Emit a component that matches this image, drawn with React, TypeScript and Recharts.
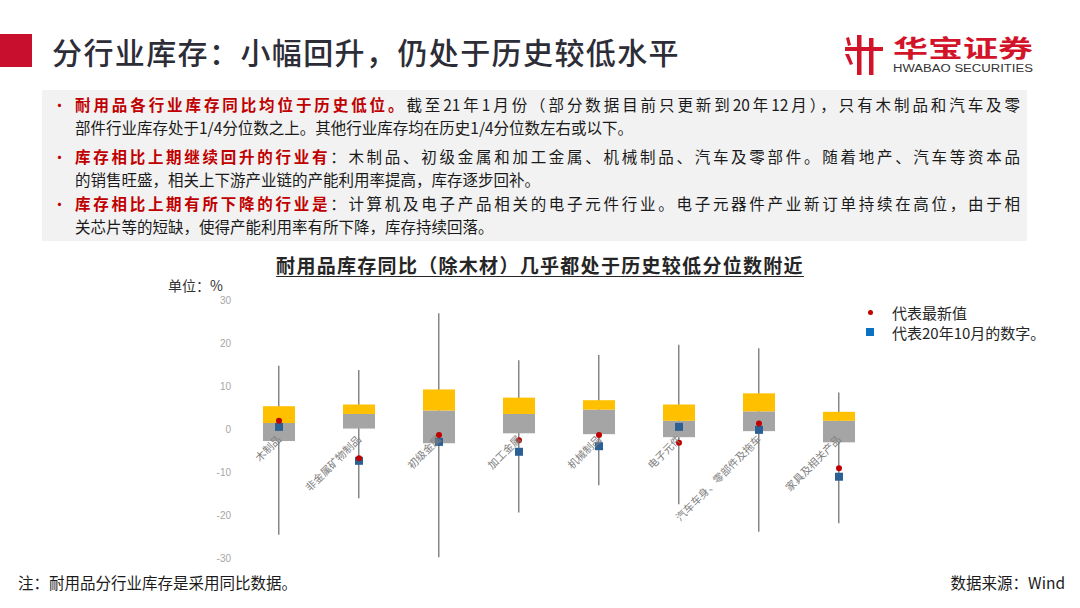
import React from 'react';
import { ComposedChart, Bar, Line, XAxis, YAxis, Legend, LabelList } from 'recharts';

const categories = ['木制品', '非金属矿物制品', '初级金属', '加工金属', '机械制品', '电子元件', '汽车车身、零部件及拖车', '家具及相关产品'];
const histMin = [-24.6, -16.1, -29.8, -19.4, -13.1, -17.5, -23.9, -21.9];
const histMax = [14.7, 13.7, 26.9, 16.0, 17.2, 19.6, 18.8, 8.5];
const q1 = [-2.8, 0.1, -3.3, -1.0, -1.2, -1.9, -0.5, -3.1];
const median = [1.4, 3.5, 4.3, 3.5, 4.5, 1.9, 4.1, 1.9];
const q3 = [5.3, 5.7, 9.2, 7.3, 6.7, 5.7, 8.3, 4.0];
const latest = [1.9, -6.8, -1.4, -2.6, -1.4, -3.2, 1.3, -9.1];
const oct2020 = [0.5, -7.4, -3.0, -5.3, -4.0, 0.5, -0.2, -11.1];
const yTicks = [-30, -20, -10, 0, 10, 20, 30];

const LATEST_NAME = '代表最新值';
const OCT_NAME = '代表20年10月的数字。';
const legendOrder = [LATEST_NAME, OCT_NAME];

const data = categories.map((name, i) => ({
  name,
  whisker: [histMin[i], histMax[i]],
  lower: [q1[i], median[i]],
  upper: [median[i], q3[i]],
  latest: latest[i],
  oct: oct2020[i],
  base: 0,
}));

const CJK = '"Noto Sans CJK SC", "Noto Sans", sans-serif';
const RED = '#c00000';

function CategoryLabel(props: any) {
  const x = props.x ?? props.viewBox?.x;
  const y = props.y ?? props.viewBox?.y;
  if (x == null || y == null) return null;
  const ax = x + 3;
  const ay = y + 11;
  return (
    <text x={ax} y={ay} transform={`rotate(-45 ${ax} ${ay})`} textAnchor="end" fontSize={10.5} fill="#808080" fontFamily={CJK}>
      {props.value}
    </text>
  );
}

function SquareDot(props: any) {
  const { cx, cy, index } = props;
  if (cx == null || cy == null) return null;
  return <rect key={`sq-${index}`} x={cx - 4} y={cy - 4} width={8} height={8} fill="#2b6095" />;
}

function LegendBox(props: any) {
  const items = (props.payload || [])
    .filter((p: any) => legendOrder.includes(p.value))
    .sort((a: any, b: any) => legendOrder.indexOf(a.value) - legendOrder.indexOf(b.value));
  return (
    <div style={{ fontFamily: CJK, fontSize: 15, color: '#262626' }}>
      {items.map((p: any) => (
        <div key={p.value} style={{ display: 'flex', alignItems: 'center', height: 20 }}>
          <span style={{ width: 26, display: 'inline-flex', justifyContent: 'flex-start' }}>
            {p.value === LATEST_NAME ? (
              <span style={{ width: 5, height: 5, borderRadius: 3, background: RED, marginLeft: 1.5 }} />
            ) : (
              <span style={{ width: 8, height: 8, background: '#0b72c2' }} />
            )}
          </span>
          <span>{p.value}</span>
        </div>
      ))}
    </div>
  );
}

function Logo() {
  return (
    <svg width={200} height={50} style={{ position: 'absolute', left: 840, top: 30 }}>
      <g fill="#d2142a">
        <rect x={5} y={17} width={38} height={4} />
        <rect x={17} y={5} width={4.5} height={40} />
        <rect x={29} y={8} width={4.5} height={37} />
        <path d="M5 24 L9 24 L13 34 L10 35 Z" />
        <path d="M6 8 L9 7 L11 15 L8 16 Z" />
      </g>
      <text x={53} y={27} textLength={140} lengthAdjust="spacingAndGlyphs" fontSize={24} fontWeight={700} fill="#d2142a" fontFamily={CJK}>
        华宝证券
      </text>
      <text x={53} y={42} textLength={140} lengthAdjust="spacingAndGlyphs" fontSize={10} fill="#333" fontFamily="'Liberation Sans', Arial, sans-serif">
        HWABAO SECURITIES
      </text>
    </svg>
  );
}

const lineStyle = (top: number, justify: boolean): React.CSSProperties => ({
  position: 'absolute',
  left: 75,
  top,
  width: 945,
  height: 23,
  lineHeight: '23px',
  textAlign: justify ? 'justify' : 'left',
  textAlignLast: justify ? 'justify' : 'left',
  whiteSpace: 'nowrap',
});

const redStyle: React.CSSProperties = { color: RED, fontWeight: 700 };

export default function App() {
  return (
    <div style={{ position: 'absolute', left: 0, top: 0, width: 1080, height: 608, background: '#fff', overflow: 'hidden', fontFamily: CJK, color: '#1a1a1a' }}>
      <div style={{ position: 'absolute', left: 0, top: 34, width: 32, height: 33, background: '#c8102e' }} />
      <div style={{ position: 'absolute', left: 52, top: 31, fontSize: 30, lineHeight: '40px', color: '#2d2d38', fontWeight: 500, letterSpacing: 1.4 }}>
        分行业库存：小幅回升，仍处于历史较低水平
      </div>
      <Logo />

      <div style={{ position: 'absolute', left: 42, top: 90, width: 985, height: 151, background: '#f2f2f2' }} />
      <div style={{ fontSize: 15.5 }}>
        {[92.5, 145, 192].map((t) => (
          <div key={t} style={{ position: 'absolute', left: 52, top: t, lineHeight: '23px', color: RED, fontSize: 15 }}>•</div>
        ))}
        <div style={lineStyle(92.5, true)}>
          <span style={redStyle}>耐用品各行业库存同比均位于历史低位。</span>截至21年1月份（部分数据目前只更新到20年12月），只有木制品和汽车及零
        </div>
        <div style={lineStyle(115.5, false)}>部件行业库存处于1/4分位数之上。其他行业库存均在历史1/4分位数左右或以下。</div>
        <div style={lineStyle(145, true)}>
          <span style={redStyle}>库存相比上期继续回升的行业有</span>：木制品、初级金属和加工金属、机械制品、汽车及零部件。随着地产、汽车等资本品
        </div>
        <div style={lineStyle(168, false)}>的销售旺盛，相关上下游产业链的产能利用率提高，库存逐步回补。</div>
        <div style={lineStyle(192, true)}>
          <span style={redStyle}>库存相比上期有所下降的行业是</span>：计算机及电子产品相关的电子元件行业。电子元器件产业新订单持续在高位，由于相
        </div>
        <div style={lineStyle(215, false)}>关芯片等的短缺，使得产能利用率有所下降，库存持续回落。</div>
      </div>

      <div style={{ position: 'absolute', left: 0, top: 252, width: 1080, textAlign: 'center', fontSize: 19, fontWeight: 700, letterSpacing: 1.3, color: '#262626', textDecoration: 'underline', textUnderlineOffset: 3, lineHeight: '26px' }}>
        耐用品库存同比（除木材）几乎都处于历史较低分位数附近
      </div>
      <div style={{ position: 'absolute', left: 168, top: 275, fontSize: 14, color: '#333', lineHeight: '20px' }}>单位：%</div>

      <div style={{ position: 'absolute', left: 160, top: 280 }}>
        <ComposedChart width={900} height={300} data={data} margin={{ top: 20, right: 181, bottom: 22, left: 19 }}>
          <XAxis xAxisId="w" dataKey="name" hide />
          <XAxis xAxisId="b1" dataKey="name" hide />
          <XAxis xAxisId="b2" dataKey="name" hide />
          <XAxis xAxisId="m" dataKey="name" hide />
          <YAxis
            width={60}
            domain={[-30, 30]}
            ticks={yTicks}
            axisLine={false}
            tickLine={false}
            tick={{ fontSize: 10, fill: '#a6a6a6', fontFamily: 'Liberation Sans, Arial, sans-serif' }}
          />
          <Line xAxisId="m" dataKey="base" stroke="none" dot={false} activeDot={false} legendType="none" isAnimationActive={false}>
            <LabelList dataKey="name" content={CategoryLabel} />
          </Line>
          <Bar xAxisId="w" dataKey="whisker" barSize={1.5} fill="#858585" legendType="none" isAnimationActive={false} />
          <Bar xAxisId="b1" dataKey="lower" barSize={32} fill="#a5a5a5" legendType="none" isAnimationActive={false} />
          <Bar xAxisId="b2" dataKey="upper" barSize={32} fill="#ffc000" legendType="none" isAnimationActive={false} />
          <Line
            xAxisId="m"
            name={OCT_NAME}
            dataKey="oct"
            stroke="none"
            legendType="square"
            dot={SquareDot}
            activeDot={false}
            isAnimationActive={false}
          />
          <Line
            xAxisId="m"
            name={LATEST_NAME}
            dataKey="latest"
            stroke="none"
            legendType="circle"
            dot={{ r: 3, fill: RED, stroke: 'none' }}
            activeDot={false}
            isAnimationActive={false}
          />
          <Legend
            layout="vertical"
            align="center"
            verticalAlign="middle"
            wrapperStyle={{ left: 706, top: 22, width: 200 }}
            content={LegendBox}
          />
        </ComposedChart>
      </div>

      <div style={{ position: 'absolute', left: 18, top: 571, fontSize: 15.5, lineHeight: '22px', color: '#1a1a1a' }}>注：耐用品分行业库存是采用同比数据。</div>
      <div style={{ position: 'absolute', right: 15, top: 571, fontSize: 15.5, lineHeight: '22px', color: '#1a1a1a' }}>数据来源：Wind</div>
    </div>
  );
}
